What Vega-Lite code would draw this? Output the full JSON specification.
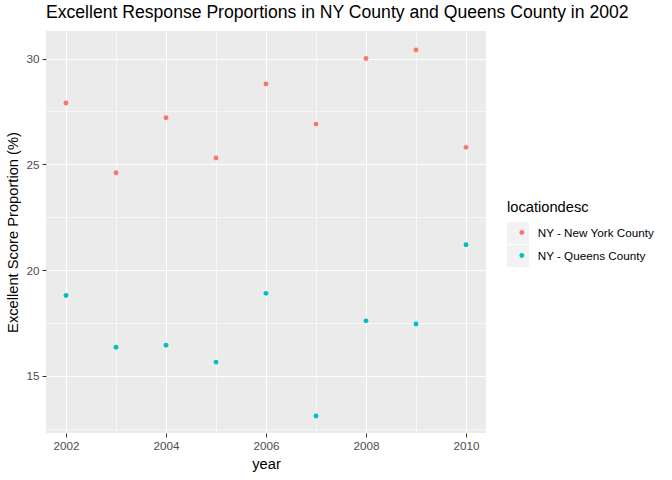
{
  "$schema": "https://vega.github.io/schema/vega-lite/v6.json",
  "width": 440,
  "height": 402,
  "autosize": {"type": "none"},
  "padding": {"left": 46, "top": 31, "right": 186, "bottom": 47},
  "background": "white",
  "title": {
    "text": "Excellent Response Proportions in NY County and Queens County in 2002",
    "anchor": "start",
    "frame": "group",
    "fontSize": 17.6,
    "fontWeight": "normal",
    "font": "Liberation Sans",
    "color": "black",
    "offset": 9
  },
  "config": {
    "font": "Liberation Sans",
    "view": {"fill": "#EBEBEB", "stroke": null},
    "axis": {
      "domain": false,
      "tickColor": "#333333",
      "tickSize": 4,
      "labelColor": "#4D4D4D",
      "labelFontSize": 11.7,
      "titleFontSize": 14.7,
      "titleFontWeight": "normal",
      "titleColor": "black",
      "gridColor": "white"
    }
  },
  "data": {
    "values": [
      {"year": 2002, "locationdesc": "NY - New York County", "value": 27.9},
      {"year": 2003, "locationdesc": "NY - New York County", "value": 24.6},
      {"year": 2004, "locationdesc": "NY - New York County", "value": 27.2},
      {"year": 2005, "locationdesc": "NY - New York County", "value": 25.3},
      {"year": 2006, "locationdesc": "NY - New York County", "value": 28.8},
      {"year": 2007, "locationdesc": "NY - New York County", "value": 26.9},
      {"year": 2008, "locationdesc": "NY - New York County", "value": 30.0},
      {"year": 2009, "locationdesc": "NY - New York County", "value": 30.4},
      {"year": 2010, "locationdesc": "NY - New York County", "value": 25.8},
      {"year": 2002, "locationdesc": "NY - Queens County", "value": 18.8},
      {"year": 2003, "locationdesc": "NY - Queens County", "value": 16.35},
      {"year": 2004, "locationdesc": "NY - Queens County", "value": 16.45},
      {"year": 2005, "locationdesc": "NY - Queens County", "value": 15.65},
      {"year": 2006, "locationdesc": "NY - Queens County", "value": 18.9},
      {"year": 2007, "locationdesc": "NY - Queens County", "value": 13.1},
      {"year": 2008, "locationdesc": "NY - Queens County", "value": 17.6},
      {"year": 2009, "locationdesc": "NY - Queens County", "value": 17.45},
      {"year": 2010, "locationdesc": "NY - Queens County", "value": 21.2}
    ]
  },
  "encoding": {
    "x": {
      "field": "year",
      "type": "quantitative",
      "title": "year",
      "scale": {"domain": [2001.6, 2010.4], "nice": false, "zero": false},
      "axis": {
        "values": [2002, 2003, 2004, 2005, 2006, 2007, 2008, 2009, 2010],
        "labelExpr": "datum.value % 2 === 0 ? datum.value : ''",
        "tickOpacity": {"condition": {"test": "datum.value % 2 === 0", "value": 1}, "value": 0},
        "gridWidth": {"condition": {"test": "datum.value % 2 === 0", "value": 1.1}, "value": 0.55},
        "labelPadding": 3,
        "titlePadding": 5,
        "labelFlush": false
      }
    },
    "y": {
      "field": "value",
      "type": "quantitative",
      "title": "Excellent Score Proportion (%)",
      "scale": {"domain": [12.3, 31.3], "nice": false, "zero": false},
      "axis": {
        "values": [12.5, 15, 17.5, 20, 22.5, 25, 27.5, 30],
        "labelExpr": "datum.value % 5 === 0 ? datum.value : ''",
        "tickOpacity": {"condition": {"test": "datum.value % 5 === 0", "value": 1}, "value": 0},
        "gridWidth": {"condition": {"test": "datum.value % 5 === 0", "value": 1.1}, "value": 0.55},
        "labelPadding": 3,
        "titlePadding": 5,
        "labelFlush": false
      }
    }
  },
  "layer": [
    {
      "mark": {"type": "point", "filled": true, "opacity": 0, "color": "#F2F2F2"},
      "encoding": {
        "shape": {
          "field": "locationdesc",
          "type": "nominal",
          "scale": {"range": ["square", "square"]},
          "legend": {
            "orient": "none",
            "legendX": 461,
            "legendY": 169,
            "zindex": 0,
            "title": "locationdesc",
            "titleColor": "transparent",
            "titleFontSize": 14.7,
            "titleFontWeight": "normal",
            "titlePadding": 7.5,
            "labelExpr": "''",
            "labelFontSize": 11.7,
            "symbolSize": 484,
            "symbolFillColor": "#F2F2F2",
            "symbolStrokeColor": "#F2F2F2",
            "symbolStrokeWidth": 0,
            "symbolOpacity": 1,
            "rowPadding": 1,
            "labelOffset": 0
          }
        }
      }
    },
    {
      "mark": {"type": "point", "filled": true, "size": 24, "opacity": 1},
      "encoding": {
        "color": {
          "field": "locationdesc",
          "type": "nominal",
          "scale": {"range": ["#F8766D", "#00BFC4"]},
          "legend": {
            "orient": "none",
            "legendX": 461,
            "legendY": 169,
            "zindex": 1,
            "title": "locationdesc",
            "titleColor": "black",
            "titleFontSize": 14.7,
            "titleFontWeight": "normal",
            "titlePadding": 12,
            "labelColor": "black",
            "labelFontSize": 11.7,
            "symbolType": "circle",
            "symbolSize": 24,
            "symbolOffset": 9,
            "symbolStrokeWidth": 0,
            "rowPadding": 10,
            "labelOffset": 10
          }
        }
      }
    }
  ],
  "resolve": {"legend": {"color": "independent", "shape": "independent"}}
}
